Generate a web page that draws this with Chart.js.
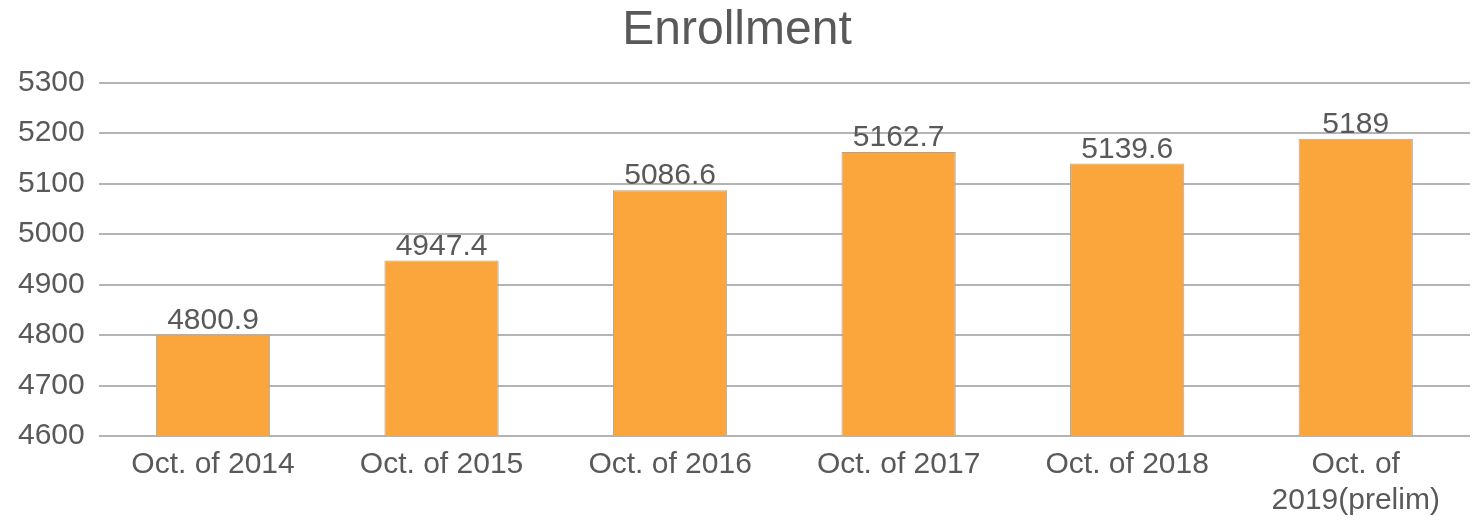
<!DOCTYPE html>
<html>
<head>
<meta charset="utf-8">
<title>Enrollment</title>
<script src="https://cdn.jsdelivr.net/npm/chart.js@4"></script>
<style>
  html, body { margin: 0; padding: 0; background: #fff; }
  #wrap { width: 1479px; height: 525px; position: relative; }
</style>
</head>
<body>
<div id="wrap"><canvas id="enrollmentChart"></canvas></div>
<script>
// ── Data ─────────────────────────────────────────────────────────────
const categories = ['Oct. of 2014', 'Oct. of 2015', 'Oct. of 2016', 'Oct. of 2017', 'Oct. of 2018', ['Oct. of', '2019(prelim)']];
const enrollment = [4800.9, 4947.4, 5086.6, 5162.7, 5139.6, 5189];
const yTicks     = [4600, 4700, 4800, 4900, 5000, 5100, 5200, 5300];

const FONT = "'Liberation Sans', Arial, sans-serif";
const TEXT = '#595959';

// ── Value labels above each bar ──────────────────────────────────────
const valueLabels = {
  id: 'valueLabels',
  afterDatasetsDraw(chart) {
    const ctx = chart.ctx;
    const meta = chart.getDatasetMeta(0);
    ctx.save();
    ctx.font = '30px ' + FONT;
    ctx.fillStyle = TEXT;
    ctx.textAlign = 'center';
    ctx.textBaseline = 'alphabetic';
    meta.data.forEach((bar, i) => {
      ctx.fillText(String(enrollment[i]), bar.x, bar.y - 6);
    });
    ctx.restore();
  },
};

new Chart(document.getElementById('enrollmentChart'), {
  type: 'bar',
  data: {
    labels: categories,
    datasets: [{
      label: 'Enrollment',
      data: enrollment,
      backgroundColor: '#FAA63D',
      borderColor: '#A6A6A6',
      borderWidth: 1,
      categoryPercentage: 1,
      barPercentage: 0.5,
    }],
  },
  options: {
    responsive: true,
    maintainAspectRatio: false,
    animation: false,
    layout: { padding: { left: 4, right: 9, top: 0, bottom: -5 } },
    plugins: {
      legend: { display: false },
      tooltip: { enabled: false },
      title: {
        display: true,
        text: 'Enrollment',
        color: TEXT,
        font: { family: FONT, size: 48, weight: 'normal' },
        padding: { top: 2, bottom: 23 },
      },
    },
    scales: {
      y: {
        min: yTicks[0],
        max: yTicks[yTicks.length - 1],
        afterBuildTicks: axis => { axis.ticks = yTicks.map(v => ({ value: v })); },
        border: { display: false },
        grid: { color: '#B4B4B4', lineWidth: 2, drawTicks: false },
        ticks: { color: TEXT, font: { family: FONT, size: 30 }, padding: 14, callback: v => String(v) },
      },
      x: {
        border: { display: false },
        grid: { display: false, drawTicks: false },
        ticks: { color: TEXT, font: { family: FONT, size: 30, lineHeight: 1.2 }, padding: 11, maxRotation: 0, autoSkip: false },
      },
    },
  },
  plugins: [valueLabels],
});
</script>
</body>
</html>
